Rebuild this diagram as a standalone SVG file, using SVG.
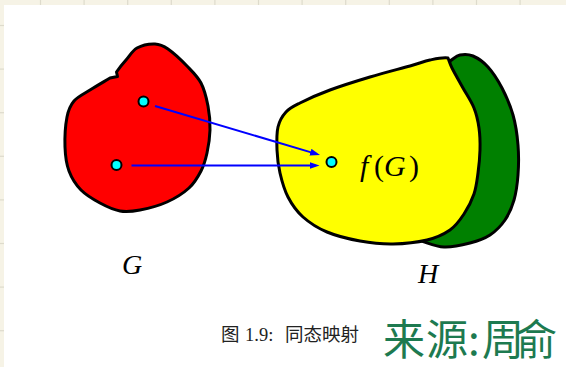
<svg xmlns="http://www.w3.org/2000/svg" width="566" height="367" viewBox="0 0 566 367">
<style>
.grid{stroke:#dedbcc;stroke-width:1.2}
.blob{stroke:#000;stroke-width:3;stroke-linejoin:round}
.dot{fill:#00ffff;stroke:#000;stroke-width:2}
.arr{stroke:#0000ff;stroke-width:2;fill:none}
.math{font-family:"Liberation Serif",serif;fill:#000}
.it{font-style:italic}
.cap{font-family:"Noto Sans CJK SC",sans-serif;font-size:18.5px;fill:#222}
.num{font-family:"Liberation Serif",serif;font-size:18.5px;fill:#222}
.hand{font-family:"Noto Sans CJK SC",sans-serif;font-size:42px;fill:#1d7a50}
</style>
<defs>
<marker id="ah" markerUnits="userSpaceOnUse" markerWidth="10" markerHeight="7" refX="6" refY="3.5" orient="auto">
<path d="M0,0 L10,3.5 L0,7 Z" fill="#0000ff"/>
</marker>
</defs>
<g id="background">
<rect x="0" y="0" width="566" height="367" fill="#f6f3e6"/>
<g class="grid">
<line x1="40.5" y1="0" x2="40.5" y2="5"/><line x1="84.1" y1="0" x2="84.1" y2="5"/><line x1="127.7" y1="0" x2="127.7" y2="5"/><line x1="171.3" y1="0" x2="171.3" y2="5"/><line x1="214.9" y1="0" x2="214.9" y2="5"/><line x1="258.5" y1="0" x2="258.5" y2="5"/><line x1="302.1" y1="0" x2="302.1" y2="5"/><line x1="345.7" y1="0" x2="345.7" y2="5"/><line x1="389.3" y1="0" x2="389.3" y2="5"/><line x1="432.9" y1="0" x2="432.9" y2="5"/><line x1="476.5" y1="0" x2="476.5" y2="5"/><line x1="520.1" y1="0" x2="520.1" y2="5"/>
<line x1="0" y1="25.5" x2="4" y2="25.5"/><line x1="0" y1="69.1" x2="4" y2="69.1"/><line x1="0" y1="112.7" x2="4" y2="112.7"/><line x1="0" y1="156.3" x2="4" y2="156.3"/><line x1="0" y1="199.9" x2="4" y2="199.9"/><line x1="0" y1="243.5" x2="4" y2="243.5"/><line x1="0" y1="287.1" x2="4" y2="287.1"/><line x1="0" y1="330.7" x2="4" y2="330.7"/>
</g>
<rect x="4" y="5" width="562" height="362" fill="#ffffff"/>
</g>
<g id="G">
<path class="blob" fill="#ff0000" d="M116.5,72 C119.7,67.3 122.6,63.8 126,60 S132.2,50.7 137,48 S149.8,43.8 155,44 S162.7,45.3 168,49 S181.5,60.3 187,66 S197.5,76.3 201,83 S206.5,98.2 208,106 S210.2,122.2 210,130 S208.5,146.2 207,153 S204,165.2 201,171 S194.7,182.8 189,188 S175.2,198.3 167,202 S147.8,208.5 140,210 S126.7,212.2 120,211 S106.5,206.5 100,203 S86.2,195.3 81,190 S71.7,178.2 69,171 S65.3,156 65,147 S65.5,124.7 67,117 S70.2,105.5 74,101 S84,93.8 90,90 S103.3,82 110,78 L117.5,76.5 L116.5,72 Z"/>
<text class="math it" x="122" y="274" font-size="28">G</text>
</g>
<g id="H">
<path class="blob" fill="#008000" d="M418,240 C426.7,242.3 435.3,246.5 444,247 S462.3,245 470,243 S484.2,238.8 490,235 S501,225.8 505,220 S511.8,207.5 514,200 S517.3,184.2 518,175 S518.8,155 518,145 S515.7,124.5 513,115 S506.2,96 502,88 S492.8,72.3 488,67 S477.7,58 473,56 S463.8,54.2 460,55 S453.3,59 450,61 L440,120 L425,230 Z"/>
<path class="blob" fill="#ffff00" d="M448,58 C449.3,61.3 449.5,63 452,68 S459.3,81.3 463,88 S471.3,101.3 474,108 S478,121 479,128 S480.2,142.5 480,150 S479,165.7 478,173 S476.3,187.2 474,194 S468,208 464,214 S456.2,225.7 450,230 S436.5,237.7 427,240 S404.2,243.8 393,244 S371,243 360,241 S336.5,236 327,232 S309.5,222.8 303,217 S291.8,204.3 288,197 S281.8,180.8 280,173 S277.3,157.7 277,150 S276.5,133.3 278,127 S282.3,116 286,112 S292.7,106.7 300,103 S318.3,94.3 330,90 S356.7,81 370,77 S400,68.8 410,66 S423.7,61.3 430,60 S442,57.3 448,58 Z"/>
<text class="math it" x="418" y="283" font-size="28">H</text>
</g>
<g id="fG">
<text class="math" font-size="30" y="176"><tspan class="it" x="360">f</tspan><tspan x="374">(</tspan><tspan class="it" x="384">G</tspan><tspan x="409">)</tspan></text>
</g>
<g id="points">
<circle class="dot" cx="143.5" cy="101.5" r="5"/>
<circle class="dot" cx="116.5" cy="165" r="5"/>
<circle class="dot" cx="331.5" cy="162" r="5"/>
</g>
<g id="connectors">
<line class="arr" x1="155" y1="106" x2="316.2" y2="153.9" marker-end="url(#ah)"/>
<line class="arr" x1="131.5" y1="165.5" x2="315.5" y2="165.5" marker-end="url(#ah)"/>
</g>
<g id="caption">
<text class="cap" x="221" y="341">图</text>
<text class="num" x="245" y="341">1.9:</text>
<text class="cap" x="285" y="341">同态映射</text>
</g>
<g id="source">
<text class="hand" x="383 426 468 482 515" y="355">来源:周俞</text>
</g>
</svg>
